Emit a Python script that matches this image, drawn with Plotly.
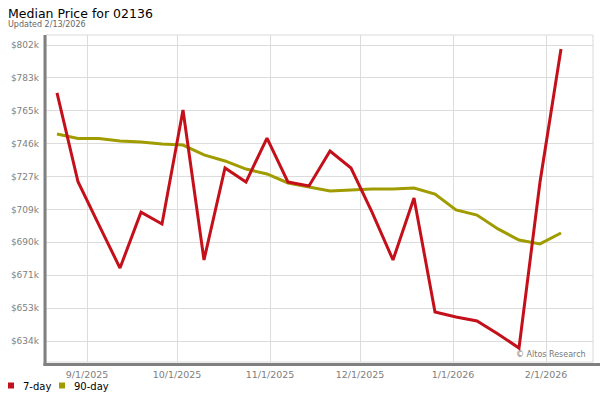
import plotly.graph_objects as go

# ---- data ----
dates = ["2025-08-22", "2025-08-29", "2025-09-05", "2025-09-12", "2025-09-19", "2025-09-26",
         "2025-10-03", "2025-10-10", "2025-10-17", "2025-10-24", "2025-10-31",
         "2025-11-07", "2025-11-14", "2025-11-21", "2025-11-28",
         "2025-12-05", "2025-12-12", "2025-12-19", "2025-12-26",
         "2026-01-02", "2026-01-09", "2026-01-16", "2026-01-23", "2026-01-30",
         "2026-02-06"]
price_7day = [774800, 724400, 699800, 675400, 707100, 700400,
              765100, 680000, 732200, 724200, 749200,
              724200, 722000, 741800, 732200,
              707200, 680000, 715200, 650500,
              647600, 645400, 638000, 630000, 724200,
              799700]
price_90day = [751500, 749000, 749000, 747500, 747000, 745800,
               745200, 739600, 736200, 731600, 728800,
               723700, 721400, 719100, 719700,
               720300, 720300, 720800, 717400,
               708400, 705500, 697600, 691300, 689100,
               695300]
y_tickvals = [634000, 652667, 671333, 690000, 708667, 727333, 746000, 764667, 783333, 802000]
y_ticktext = ["$634k", "$653k", "$671k", "$690k", "$709k", "$727k", "$746k", "$765k", "$783k", "$802k"]
x_tickvals = ["2025-09-01", "2025-10-01", "2025-11-01", "2025-12-01", "2026-01-01", "2026-02-01"]
x_ticktext = ["9/1/2025", "10/1/2025", "11/1/2025", "12/1/2025", "1/1/2026", "2/1/2026"]
series_names = ["7-day", "90-day"]
series_colors = ["#c4101a", "#a09c00"]

W, H = 600, 400
L, R, T, B = 46, 7, 35, 38
PW, PH = W - L - R, H - T - B


def px(x):
    return (x - L) / PW


def py(y):
    return (H - B - y) / PH


FONT = "DejaVu Sans"
fig = go.Figure()
fig.add_trace(go.Scatter(x=dates, y=price_90day, mode="lines", name=series_names[1],
                         line=dict(color=series_colors[1], width=3), showlegend=False))
fig.add_trace(go.Scatter(x=dates, y=price_7day, mode="lines", name=series_names[0],
                         line=dict(color=series_colors[0], width=3), showlegend=False))

shapes = [
    dict(type="rect", xref="paper", yref="paper", x0=0, x1=1, y0=0, y1=1,
         line=dict(color="#d9d9d9", width=1), layer="below"),
    dict(type="line", xref="paper", yref="paper", x0=px(45), x1=px(45), y0=py(365.5), y1=py(35),
         line=dict(color="#808080", width=3)),
    dict(type="line", xref="paper", yref="paper", x0=px(43.5), x1=px(600), y0=py(364.5), y1=py(364.5),
         line=dict(color="#808080", width=3)),
    # legend squares
    dict(type="rect", xref="paper", yref="paper", x0=px(8), x1=px(14), y0=py(388.5), y1=py(382.5),
         fillcolor=series_colors[0], line=dict(width=0)),
    dict(type="rect", xref="paper", yref="paper", x0=px(59), x1=px(65), y0=py(388.5), y1=py(382.5),
         fillcolor=series_colors[1], line=dict(width=0)),
]

annotations = [
    dict(text="Median Price for 02136", xref="paper", yref="paper", x=px(6), y=py(14),
         xanchor="left", yanchor="middle", showarrow=False,
         font=dict(family=FONT, size=12.5, color="#000000")),
    dict(text="Updated 2/13/2026", xref="paper", yref="paper", x=px(6), y=py(24.5),
         xanchor="left", yanchor="middle", showarrow=False,
         font=dict(family=FONT, size=8, color="#666666")),
    dict(text=series_names[0], xref="paper", yref="paper", x=px(21), y=py(386),
         xanchor="left", yanchor="middle", showarrow=False,
         font=dict(family=FONT, size=10, color="#000000")),
    dict(text=series_names[1], xref="paper", yref="paper", x=px(72), y=py(386),
         xanchor="left", yanchor="middle", showarrow=False,
         font=dict(family=FONT, size=10, color="#000000")),
    dict(text="© Altos Research", xref="paper", yref="paper", x=px(588), y=py(354),
         xanchor="right", yanchor="middle", showarrow=False,
         font=dict(family=FONT, size=8, color="#777777")),
]

fig.update_layout(
    width=W, height=H, margin=dict(l=L, r=R, t=T, b=B, autoexpand=False),
    paper_bgcolor="white", plot_bgcolor="white",
    showlegend=False, shapes=shapes, annotations=annotations,
    xaxis=dict(type="date", range=["2025-08-18 08:00", "2026-02-16 16:00"],
               tickvals=x_tickvals, ticktext=x_ticktext, showgrid=True, automargin=False,
               gridcolor="#dcdcdc", gridwidth=1, zeroline=False, showline=False,
               ticks="", ticklabelstandoff=5,
               tickfont=dict(family=FONT, size=9.5, color="#808080")),
    yaxis=dict(range=[622080, 807680], tickvals=y_tickvals, ticktext=y_ticktext,
               showgrid=True, gridcolor="#dcdcdc", gridwidth=1, zeroline=False, automargin=False,
               showline=False, ticks="", ticklabelstandoff=6,
               tickfont=dict(family=FONT, size=9, color="#808080")),
)

fig.write_html("out.html", config={"displayModeBar": False},
               post_script="document.body.style.margin='0';document.body.style.overflow='hidden';")
